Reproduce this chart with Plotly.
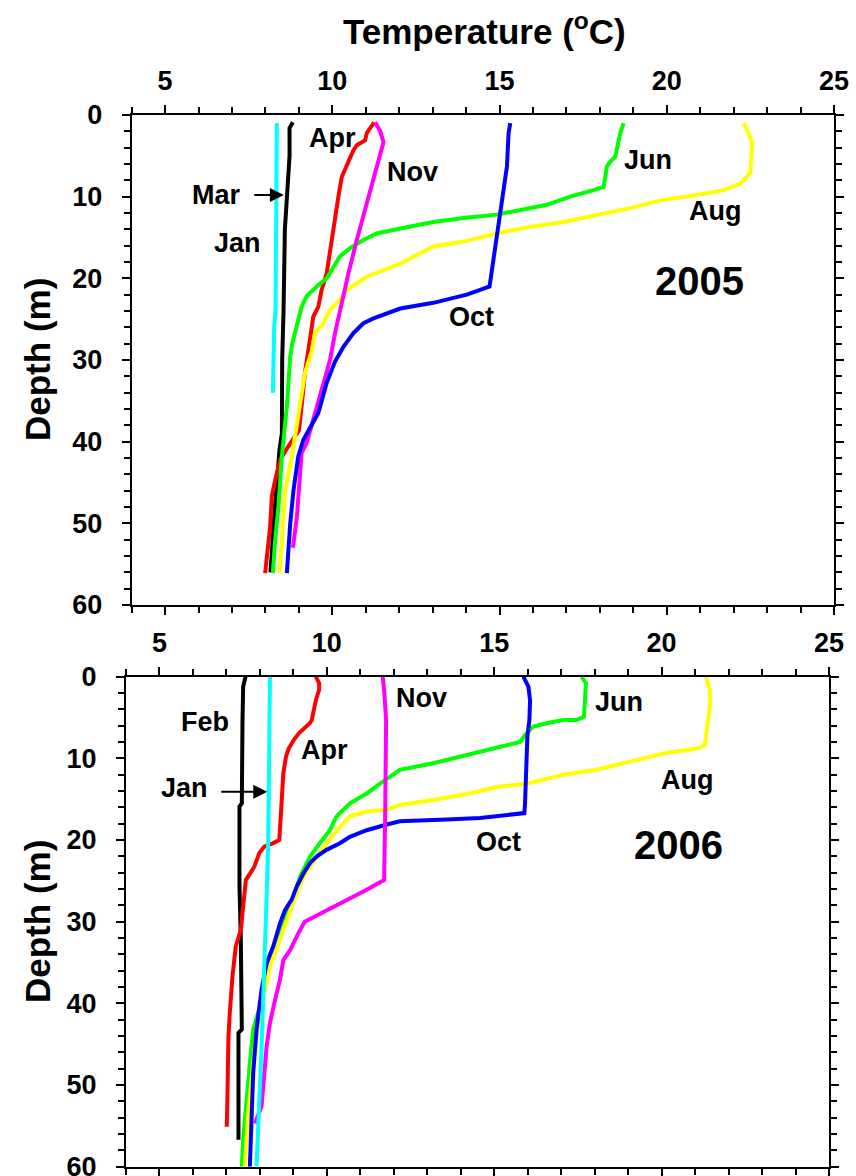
import plotly.graph_objects as go

# ---------------- 2005 profiles (temperature in degC, depth in m) ----------------
jan05_t = [8.34, 8.33, 8.30, 8.26, 8.24, 8.22]
jan05_d = [1.0, 15.0, 24.0, 26.0, 30.0, 34.0]

mar05_t = [8.82, 8.72, 8.72, 8.64, 8.58, 8.54, 8.50, 8.49, 8.42, 8.30, 8.22, 8.15]
mar05_d = [0.9, 1.6, 5.0, 10.0, 14.0, 24.0, 30.0, 39.0, 41.0, 47.0, 52.0, 56.0]

apr05_t = [11.25, 11.03, 10.98, 10.73, 10.63, 10.48, 10.28, 10.18, 10.08, 9.93, 9.83, 9.68,
           9.58, 9.43, 9.33, 9.18, 9.08, 9.00, 8.68, 8.44, 8.29, 8.19, 8.14, 8.04, 7.99]
apr05_d = [0.9, 2.2, 3.1, 3.7, 4.3, 5.7, 7.6, 10.0, 12.9, 17.3, 19.4, 21.4,
           23.5, 24.7, 27.5, 31.6, 35.7, 38.6, 40.6, 42.2, 44.7, 46.7, 50.4, 54.5, 56.1]

jun05_t = [18.71, 18.61, 18.46, 18.31, 18.21, 18.11, 17.81, 17.11, 16.41, 15.62, 14.92, 13.92,
           13.02, 12.03, 11.33, 10.93, 10.53, 10.23, 10.03, 9.83, 9.53, 9.23, 9.08, 8.94,
           8.80, 8.74, 8.64, 8.49, 8.39, 8.29, 8.22]
jun05_d = [1.0, 2.2, 5.1, 5.7, 6.3, 8.8, 9.2, 10.0, 11.0, 11.6, 12.2, 12.6,
           13.1, 13.9, 14.5, 15.3, 16.3, 17.3, 18.6, 20.0, 21.0, 22.2, 23.5, 25.9,
           28.0, 29.6, 35.7, 41.8, 47.9, 52.0, 56.1]

aug05_t = [22.30, 22.45, 22.55, 22.50, 22.20, 21.70, 20.90, 19.90, 18.90, 17.91, 16.91, 15.91,
           14.92, 13.92, 13.02, 12.03, 11.03, 10.43, 10.23, 9.93, 9.73, 9.48, 9.38, 9.18,
           8.98, 8.79, 8.59, 8.49, 8.42]
aug05_d = [1.0, 2.2, 3.5, 7.1, 8.4, 9.2, 9.8, 10.4, 11.4, 12.2, 13.1, 13.7,
           14.5, 15.5, 16.1, 18.2, 19.8, 21.4, 22.6, 23.9, 25.5, 26.7, 29.0, 31.6,
           36.9, 41.8, 45.9, 52.0, 56.1]

oct05_t = [15.32, 15.27, 15.22, 15.07, 14.92, 14.77, 14.70, 14.42, 14.02, 13.02, 12.03, 11.23,
           10.93, 10.63, 10.33, 10.08, 9.83, 9.58, 9.13, 8.98, 8.84, 8.74, 8.69, 8.64]
oct05_d = [1.0, 2.2, 6.3, 10.4, 14.5, 18.6, 21.0, 21.4, 22.0, 23.0, 23.7, 24.9,
           25.5, 26.7, 28.4, 30.2, 32.8, 36.5, 39.8, 41.8, 45.9, 50.0, 52.8, 56.1]

nov05_t = [11.28, 11.43, 11.53, 11.38, 11.18, 10.93, 10.73, 10.48, 10.28, 10.08, 9.93, 9.68,
           9.48, 9.23, 9.08, 9.00, 8.94, 8.82]
nov05_d = [0.9, 2.0, 3.3, 5.5, 8.4, 12.4, 15.3, 19.4, 23.0, 26.7, 30.0, 33.7,
           36.9, 40.2, 41.4, 45.9, 49.2, 53.0]

# ---------------- 2006 profiles ----------------
jan06_t = [8.30, 8.28, 8.25, 8.20, 8.15, 8.10, 8.05, 7.98, 7.90]
jan06_d = [0.0, 8.2, 20.0, 27.0, 35.5, 39.2, 45.3, 51.4, 60.0]

feb06_t = [7.57, 7.50, 7.48, 7.46, 7.39, 7.39, 7.43, 7.46, 7.36, 7.36]
feb06_d = [0.0, 1.2, 5.3, 15.5, 15.9, 25.7, 32.2, 43.2, 43.6, 56.7]

apr06_t = [9.67, 9.77, 9.77, 9.67, 9.55, 9.49, 9.17, 9.02, 8.86, 8.78, 8.70, 8.63, 8.58,
           8.38, 8.13, 7.98, 7.83, 7.58, 7.53, 7.43, 7.28, 7.18, 7.10, 7.06, 7.03, 7.01]
apr06_d = [0.0, 0.8, 1.6, 2.9, 5.3, 5.7, 6.9, 7.7, 8.8, 9.8, 11.8, 15.9, 20.0,
           20.4, 20.8, 21.6, 23.3, 24.9, 26.9, 31.0, 33.0, 36.7, 41.2, 44.1, 51.4, 55.1]

jun06_t = [17.61, 17.74, 17.71, 17.68, 17.46, 17.06, 16.56, 16.17, 15.97, 15.77, 15.37, 14.57,
           14.08, 13.18, 12.18, 11.89, 11.59, 11.19, 10.69, 10.29, 10.09, 9.79, 9.50, 9.20,
           9.00, 8.60, 8.25, 8.00, 7.80, 7.70, 7.60, 7.50, 7.46]
jun06_d = [0.0, 0.8, 2.9, 4.9, 5.3, 5.3, 5.7, 6.1, 6.9, 8.0, 8.4, 9.2,
           9.8, 10.6, 11.4, 12.2, 13.1, 14.3, 15.5, 17.1, 18.8, 20.4, 22.0, 24.5,
           27.0, 31.4, 35.5, 40.4, 43.2, 47.3, 51.4, 56.7, 60.0]

aug06_t = [21.32, 21.44, 21.44, 21.34, 21.29, 21.04, 20.05, 19.05, 18.05, 17.06, 15.97, 15.07,
           14.27, 13.18, 12.18, 11.79, 11.19, 10.69, 10.39, 9.99, 9.70, 9.35, 9.10, 8.95,
           8.65, 8.30, 8.00, 7.85, 7.75, 7.65, 7.55]
aug06_d = [0.0, 1.6, 3.7, 6.5, 8.4, 8.8, 9.4, 10.4, 11.4, 12.0, 13.1, 13.5,
           14.3, 15.1, 15.7, 16.3, 16.5, 17.1, 18.4, 20.4, 22.0, 24.1, 26.5, 28.2,
           31.4, 35.5, 41.2, 45.3, 49.4, 53.5, 60.0]

oct06_t = [15.87, 16.02, 16.07, 16.05, 15.99, 15.97, 15.92, 15.90, 15.47, 14.57, 13.58, 12.68,
           12.18, 11.79, 11.19, 10.69, 10.39, 9.99, 9.70, 9.50, 9.30, 9.10, 8.95, 8.75,
           8.60, 8.40, 8.20, 8.05, 7.90, 7.80, 7.75, 7.70]
oct06_d = [0.0, 1.2, 2.9, 5.3, 7.3, 11.4, 15.5, 16.7, 16.9, 17.3, 17.5, 17.6,
           17.7, 18.1, 18.8, 19.6, 20.4, 21.2, 22.0, 22.8, 24.1, 25.7, 27.3, 28.6,
           30.2, 33.0, 35.1, 38.3, 43.2, 48.5, 53.5, 60.0]

nov06_t = [11.67, 11.71, 11.77, 11.77, 11.74, 11.71, 11.19, 10.19, 9.59, 9.34, 9.15, 8.90,
           8.70, 8.60, 8.45, 8.30, 8.20, 8.12, 8.05, 7.85]
nov06_d = [0.0, 1.6, 5.3, 10.6, 17.5, 24.9, 26.1, 28.2, 29.4, 30.0, 31.4, 33.5,
           34.7, 37.1, 39.6, 42.4, 45.3, 49.4, 52.6, 54.7]

# month labels: (text, temperature, depth)
labels05 = [("Mar", 6.54, 9.8), ("Jan", 7.16, 15.7), ("Apr", 9.99, 2.8), ("Nov", 12.40, 7.0),
            ("Oct", 14.17, 24.7), ("Jun", 19.45, 5.5), ("Aug", 21.45, 11.8)]
labels06 = [("Feb", 6.36, 5.6), ("Jan", 5.76, 13.6), ("Apr", 9.94, 9.0), ("Nov", 12.83, 2.6),
            ("Jun", 18.73, 3.1), ("Aug", 20.77, 12.6), ("Oct", 15.14, 20.3)]

CYAN, BLACK, RED, GREEN = "#00FFFF", "#000000", "#FF0000", "#00FF00"
YELLOW, BLUE, MAGENTA = "#FFFF00", "#0000FF", "#FF00FF"
FONT = "Liberation Sans"

series05 = [(jan05_t, jan05_d, CYAN), (mar05_t, mar05_d, BLACK), (apr05_t, apr05_d, RED),
            (jun05_t, jun05_d, GREEN), (aug05_t, aug05_d, YELLOW), (nov05_t, nov05_d, MAGENTA),
            (oct05_t, oct05_d, BLUE)]
series06 = [(feb06_t, feb06_d, BLACK), (apr06_t, apr06_d, RED), (jun06_t, jun06_d, GREEN),
            (aug06_t, aug06_d, YELLOW), (oct06_t, oct06_d, BLUE), (nov06_t, nov06_d, MAGENTA),
            (jan06_t, jan06_d, CYAN)]

fig = go.Figure()
for t, d, c in series05:
    fig.add_trace(go.Scatter(x=t, y=d, mode="lines", line=dict(color=c, width=4),
                             xaxis="x", yaxis="y", showlegend=False))
for t, d, c in series06:
    fig.add_trace(go.Scatter(x=t, y=d, mode="lines", line=dict(color=c, width=4),
                             xaxis="x2", yaxis="y2", showlegend=False))

tick_font = dict(family=FONT, size=27, color="black", weight="bold")


def xaxis_cfg(domain, anchor):
    return dict(domain=domain, anchor=anchor, side="top", range=[4, 25], automargin=False,
                tickvals=[5, 10, 15, 20, 25], ticks="outside", ticklen=8, tickwidth=2,
                tickcolor="black", showline=True, linewidth=2, linecolor="black",
                mirror="allticks", showgrid=False, zeroline=False, tickfont=tick_font,
                ticklabelstandoff=4, ticklabeloverflow="allow",
                minor=dict(dtick=1, tick0=0, ticks="outside", ticklen=6, tickwidth=2,
                           tickcolor="black", showgrid=False))


def yaxis_cfg(domain, anchor):
    return dict(domain=domain, anchor=anchor, range=[60, 0], automargin=False,
                tickvals=[0, 10, 20, 30, 40, 50, 60], ticks="outside", ticklen=8, tickwidth=2,
                tickcolor="black", showline=True, linewidth=2, linecolor="black",
                mirror="allticks", showgrid=False, zeroline=False, tickfont=tick_font,
                ticklabelstandoff=14, ticklabeloverflow="allow",
                minor=dict(dtick=2, tick0=0, ticks="outside", ticklen=6, tickwidth=2,
                           tickcolor="black", showgrid=False))


annotations = []
label_font = dict(family=FONT, size=27, color="black", weight="bold")
for txt, t, d in labels05:
    annotations.append(dict(x=t, y=d, xref="x", yref="y", text=txt, showarrow=False,
                            xanchor="center", yanchor="middle", font=label_font))
for txt, t, d in labels06:
    annotations.append(dict(x=t, y=d, xref="x2", yref="y2", text=txt, showarrow=False,
                            xanchor="center", yanchor="middle", font=label_font))

year_font = dict(family=FONT, size=40, color="black", weight="bold")
annotations.append(dict(x=20.97, y=20.3, xref="x", yref="y", text="2005", showarrow=False,
                        xanchor="center", yanchor="middle", font=year_font))
annotations.append(dict(x=20.50, y=20.6, xref="x2", yref="y2", text="2006", showarrow=False,
                        xanchor="center", yanchor="middle", font=year_font))

# pointer arrows for the Mar (2005) and Jan (2006) profiles
annotations.append(dict(x=8.55, y=9.8, ax=7.62, ay=9.8, xref="x", yref="y", axref="x", ayref="y",
                        text="", showarrow=True, arrowhead=2, arrowsize=1.4, arrowwidth=2,
                        arrowcolor="black"))
annotations.append(dict(x=8.22, y=14.1, ax=6.80, ay=14.1, xref="x2", yref="y2", axref="x2",
                        ayref="y2", text="", showarrow=True, arrowhead=2, arrowsize=1.4,
                        arrowwidth=2, arrowcolor="black"))

title_font = dict(family=FONT, size=35, color="black", weight="bold")
annotations.append(dict(x=484 / 856, y=1 - 29 / 1176, xref="paper", yref="paper",
                        xanchor="center", yanchor="middle",
                        text="Temperature (<sup>o</sup>C)", showarrow=False, font=title_font))
annotations.append(dict(x=37 / 856, y=1 - 360 / 1176, xref="paper", yref="paper",
                        xanchor="center", yanchor="middle",
                        text="Depth (m)", textangle=-90, showarrow=False, font=title_font))
annotations.append(dict(x=37 / 856, y=1 - 922 / 1176, xref="paper", yref="paper",
                        xanchor="center", yanchor="middle",
                        text="Depth (m)", textangle=-90, showarrow=False, font=title_font))

fig.update_layout(
    template="none",
    width=856, height=1176,
    margin=dict(l=0, r=0, t=0, b=0, autoexpand=False),
    paper_bgcolor="white", plot_bgcolor="white",
    xaxis=xaxis_cfg([131.7 / 856, 834 / 856], "y"),
    yaxis=yaxis_cfg([1 - 605 / 1176, 1 - 115 / 1176], "x"),
    xaxis2=xaxis_cfg([126 / 856, 829 / 856], "y2"),
    yaxis2=yaxis_cfg([1 - 1166.7 / 1176, 1 - 676.7 / 1176], "x2"),
    annotations=annotations,
)

fig.write_html("out.html")
